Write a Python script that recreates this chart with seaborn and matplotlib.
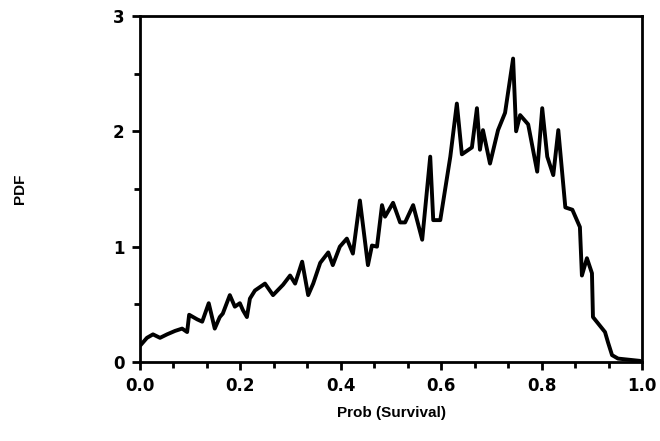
import numpy as np
import pandas as pd
import matplotlib
matplotlib.use("Agg")
import matplotlib.pyplot as plt
import seaborn as sns
from matplotlib.ticker import FixedLocator, MultipleLocator

prob_survival = [0.000, 0.014, 0.026, 0.040, 0.054, 0.070, 0.084, 0.094, 0.098, 0.114,
                 0.124, 0.137, 0.149, 0.159, 0.165, 0.179, 0.189, 0.199, 0.205, 0.213,
                 0.219, 0.229, 0.249, 0.265, 0.285, 0.299, 0.309, 0.323, 0.335, 0.345,
                 0.359, 0.375, 0.384, 0.398, 0.412, 0.424, 0.438, 0.454, 0.462, 0.472,
                 0.482, 0.488, 0.504, 0.518, 0.528, 0.544, 0.562, 0.578, 0.584, 0.598,
                 0.618, 0.631, 0.641, 0.661, 0.671, 0.677, 0.683, 0.697, 0.713, 0.727,
                 0.743, 0.749, 0.757, 0.773, 0.791, 0.801, 0.811, 0.823, 0.833, 0.847,
                 0.861, 0.876, 0.880, 0.890, 0.900, 0.902, 0.926, 0.932, 0.940, 0.952,
                 0.996]
pdf_values = [0.14, 0.21, 0.24, 0.21, 0.24, 0.27, 0.29, 0.26, 0.41, 0.37,
              0.35, 0.51, 0.29, 0.39, 0.42, 0.58, 0.48, 0.51, 0.45, 0.39,
              0.55, 0.62, 0.68, 0.58, 0.67, 0.75, 0.68, 0.87, 0.58, 0.68,
              0.86, 0.95, 0.84, 1.00, 1.07, 0.94, 1.40, 0.84, 1.01, 1.00,
              1.36, 1.26, 1.38, 1.21, 1.21, 1.36, 1.06, 1.78, 1.23, 1.23,
              1.78, 2.24, 1.80, 1.86, 2.20, 1.84, 2.01, 1.72, 2.01, 2.16,
              2.63, 2.00, 2.14, 2.06, 1.65, 2.20, 1.78, 1.62, 2.01, 1.34,
              1.32, 1.17, 0.75, 0.90, 0.77, 0.39, 0.26, 0.17, 0.06, 0.03,
              0.01]

x_ticks = [0.0, 0.2, 0.4, 0.6, 0.8, 1.0]
x_tick_labels = ["0.0", "0.2", "0.4", "0.6", "0.8", "1.0"]
y_ticks = [0, 1, 2, 3]
y_tick_labels = ["0", "1", "2", "3"]

df = pd.DataFrame({"Prob (Survival)": prob_survival, "PDF": pdf_values})

sns.set_style("ticks")
plt.rcParams["font.family"] = ["Liberation Sans", "DejaVu Sans"]
plt.rcParams["text.color"] = "black"
plt.rcParams["axes.labelcolor"] = "black"
plt.rcParams["xtick.color"] = "black"
plt.rcParams["ytick.color"] = "black"

fig = plt.figure(figsize=(6.6, 4.41), dpi=100)
ax = fig.add_axes([0.212, 0.179, 0.761, 0.785])

sns.lineplot(data=df, x="Prob (Survival)", y="PDF", ax=ax, color="black",
             linewidth=2.8, estimator=None, sort=False)

ax.set_xlim(0, 1.0)
ax.set_ylim(0, 3)
ax.set_xticks(x_ticks)
ax.set_xticklabels(x_tick_labels, fontsize=12, fontweight="bold", family="DejaVu Sans", color="black")
ax.set_yticks(y_ticks)
ax.set_yticklabels(y_tick_labels, fontsize=12, fontweight="bold", family="DejaVu Sans", color="black")
ax.xaxis.set_minor_locator(FixedLocator(np.arange(0, 1.0001, 0.2 / 3)))
ax.yaxis.set_minor_locator(MultipleLocator(0.5))
ax.tick_params(which="major", direction="out", length=6, width=2, color="black",
               labelcolor="black", pad=5)
ax.tick_params(which="minor", direction="out", length=4, width=2, color="black")

for s in ax.spines.values():
    s.set_visible(True)
    s.set_linewidth(2)
    s.set_color("black")

ax.set_xlabel("Prob (Survival)", fontsize=11, fontweight="bold", labelpad=8, color="black")
ax.set_ylabel("PDF", fontsize=11, fontweight="bold", labelpad=62, color="black")

fig.savefig("out.png", dpi=100)
